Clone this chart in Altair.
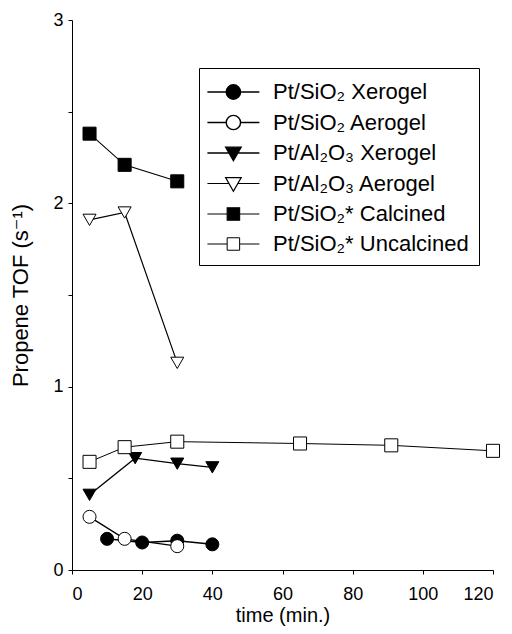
import altair as alt
import pandas as pd

series_names = [
    "Pt/SiO₂ Xerogel",
    "Pt/SiO₂ Aerogel",
    "Pt/Al₂O₃ Xerogel",
    "Pt/Al₂O₃ Aerogel",
    "Pt/SiO₂* Calcined",
    "Pt/SiO₂* Uncalcined",
]

t_sio2_xero = [10, 20, 30, 40]
y_sio2_xero = [0.17, 0.15, 0.16, 0.14]
t_sio2_aero = [5, 15, 30]
y_sio2_aero = [0.29, 0.17, 0.13]
t_al_xero = [5, 18, 30, 40]
y_al_xero = [0.41, 0.61, 0.58, 0.56]
t_al_aero = [5, 15, 30]
y_al_aero = [1.91, 1.95, 1.13]
t_calc = [5, 15, 30]
y_calc = [2.38, 2.21, 2.12]
t_uncalc = [5, 15, 30, 65, 91, 120]
y_uncalc = [0.59, 0.67, 0.70, 0.69, 0.68, 0.65]

all_t = [t_sio2_xero, t_sio2_aero, t_al_xero, t_al_aero, t_calc, t_uncalc]
all_y = [y_sio2_xero, y_sio2_aero, y_al_xero, y_al_aero, y_calc, y_uncalc]

rows = []
for name, ts, ys in zip(series_names, all_t, all_y):
    for t, y in zip(ts, ys):
        rows.append({"series": name, "t": t, "y": y})
df = pd.DataFrame(rows)

fills = ["black", "white", "black", "white", "black", "white"]
strokes = ["black"] * 6
shapes = ["circle", "circle", "triangle-down", "triangle-down", "square", "square"]
line_w = [1.5, 1.0, 1.5, 1.0, 1.5, 1.0]

# legend symbols: line segment with marker in the middle (unit coordinates)
circ = "M-1.2,0L0.25,0M1.35,0L2.8,0M0.25,0A0.55,0.55 0 1,0 1.35,0A0.55,0.55 0 1,0 0.25,0Z"
tri = "M-1.2,0L0.46,0M1.14,0L2.8,0M0.2,-0.45L1.4,-0.45L0.8,0.6Z"
sq = "M-1.2,0L0.32,0M1.28,0L2.8,0M0.32,-0.48L1.28,-0.48L1.28,0.48L0.32,0.48Z"
leg_shapes = [circ, circ, tri, tri, sq, sq]

FONT = "Liberation Sans, Arial, DejaVu Sans"

x_enc = alt.X("t:Q", scale=alt.Scale(domain=[0, 120], nice=False),
              axis=alt.Axis(values=list(range(0, 121, 20)), title="time (min.)"))
y_enc = alt.Y("y:Q", scale=alt.Scale(domain=[0, 3], nice=False),
              axis=alt.Axis(values=[0, 0.5, 1, 1.5, 2, 2.5, 3],
                            labelExpr="datum.value % 1 == 0 ? format(datum.value, 'd') : ''",
                            title="Propene TOF (s⁻¹)"))

base = alt.Chart(df)

lines = base.mark_line(color="black").encode(
    x=x_enc, y=y_enc,
    detail="series:N",
    strokeWidth=alt.StrokeWidth("series:N", scale=alt.Scale(domain=series_names, range=line_w), legend=None),
)

points = base.mark_point(filled=True, stroke="black", strokeWidth=1, size=170, opacity=1).encode(
    x=x_enc, y=y_enc,
    shape=alt.Shape("series:N", scale=alt.Scale(domain=series_names, range=shapes), legend=None),
    fill=alt.Fill("series:N", scale=alt.Scale(domain=series_names, range=fills), legend=None),
)

leg = alt.Legend(title=None, orient="none", legendX=127, legendY=48,
                 symbolSize=676,
                 labelFontSize=22, labelFont=FONT, labelColor="black",
                 labelOffset=36, rowPadding=5.5, padding=10,
                 strokeColor="black", fillColor="white",
                 labelLimit=400)

legend_layer = base.transform_filter("false").mark_point(filled=True, opacity=1).encode(
    x=x_enc, y=y_enc,
    shape=alt.Shape("series:N", scale=alt.Scale(domain=series_names, range=leg_shapes), legend=leg),
    fill=alt.Fill("series:N", scale=alt.Scale(domain=series_names, range=fills), legend=leg),
    stroke=alt.Stroke("series:N", scale=alt.Scale(domain=series_names, range=strokes), legend=leg),
    strokeWidth=alt.StrokeWidth("series:N", scale=alt.Scale(domain=series_names, range=line_w), legend=leg),
)

chart = alt.layer(lines, points, legend_layer).resolve_scale(
    shape="independent", fill="independent", stroke="independent", strokeWidth="independent"
).properties(
    width=421, height=550,
    autosize=alt.AutoSizeParams(type="none"),
    padding={"left": 64, "top": 12, "right": 11, "bottom": 56},
).configure_view(stroke=None).configure_axis(
    grid=False, domainColor="black", tickColor="black", tickSize=4,
    labelFont=FONT, labelFontSize=18, labelColor="black",
    titleFont=FONT, titleFontWeight="normal", titleColor="black",
).configure_axisX(titlePadding=2, labelPadding=11, titleFontSize=20).configure_axisY(
    titlePadding=20, labelPadding=5, titleFontSize=22)

chart.save("out.html", embed_options={"renderer": "svg", "actions": False})
